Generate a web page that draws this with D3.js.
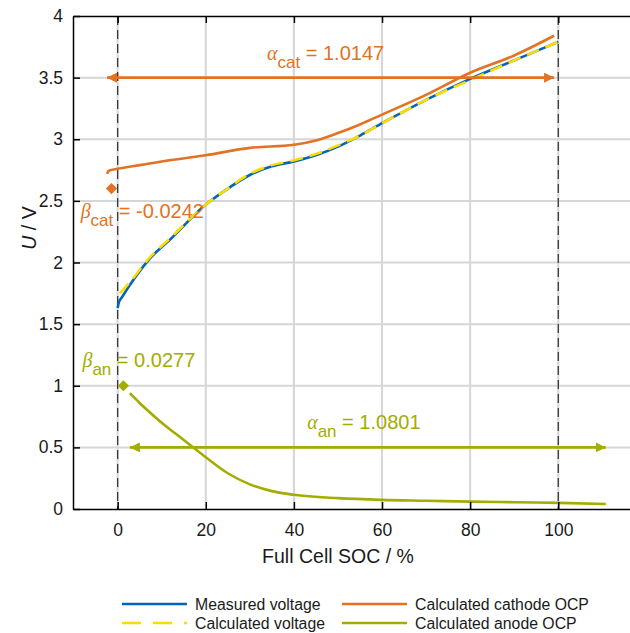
<!DOCTYPE html>
<html>
<head>
<meta charset="utf-8">
<script src="https://cdn.jsdelivr.net/npm/d3@7"></script>
<style>
  body { margin: 0; background: #fff; }
  text { font-family: Arial, "Liberation Sans", sans-serif; }
</style>
</head>
<body>
<div id="chart"></div>
<script>
// data
const measSoc = [0, 0.3, 1, 3, 7, 12, 20, 25, 30, 35, 40, 45, 50, 55, 60, 70, 80, 90, 100];
const measV   = [1.63, 1.68, 1.72, 1.83, 2.02, 2.19, 2.47, 2.60, 2.71, 2.78, 2.82, 2.87, 2.94, 3.03, 3.13, 3.32, 3.49, 3.64, 3.79];

const calcSoc = [0.5, 1, 3, 7, 12, 20, 25, 30, 35, 40, 45, 50, 55, 60, 70, 80, 90, 100];
const calcV   = [1.75, 1.77, 1.85, 2.03, 2.20, 2.47, 2.60, 2.72, 2.79, 2.83, 2.88, 2.95, 3.03, 3.13, 3.32, 3.48, 3.64, 3.79];

const cathSoc = [-2.42, -2, 0, 5, 10, 20, 30, 40, 45, 50, 55, 60, 70, 80, 90, 99.05];
const cathV   = [2.72, 2.745, 2.76, 2.79, 2.82, 2.87, 2.93, 2.955, 2.99, 3.05, 3.12, 3.20, 3.36, 3.54, 3.68, 3.84];

const anodeSoc = [2.77, 5, 10, 15, 20, 25, 30, 35, 40, 50, 60, 70, 80, 90, 100, 110.78];
const anodeV   = [0.94, 0.86, 0.70, 0.56, 0.42, 0.29, 0.20, 0.145, 0.115, 0.088, 0.074, 0.067, 0.06, 0.055, 0.05, 0.04];

const xTicks = [0, 20, 40, 60, 80, 100];
const yTicks = [0, 0.5, 1, 1.5, 2, 2.5, 3, 3.5, 4];

// fit parameters
const alphaCat = 1.0147, betaCat = -0.0242;
const alphaAn = 1.0801, betaAn = 0.0277;

const seriesNames = ["Measured voltage", "Calculated voltage", "Calculated cathode OCP", "Calculated anode OCP"];
const seriesColors = ["#0065BD", "#FFDC00", "#E37222", "#A2AD00"];

// set the dimensions of the graph
const W = 630, H = 633;

const svg = d3.select("#chart")
  .append("svg")
    .attr("width", W)
    .attr("height", H);

const x = d3.scaleLinear().domain([-10, 120]).range([73.6, 646.4]);
const y = d3.scaleLinear().domain([0, 4]).range([509, 16]);

// grid
svg.append("g")
  .selectAll("line")
  .data(xTicks)
  .enter()
  .append("line")
    .attr("x1", d => x(d)).attr("x2", d => x(d))
    .attr("y1", y(0)).attr("y2", y(4))
    .attr("stroke", "#d6d6d6")
    .attr("stroke-width", 2);

svg.append("g")
  .selectAll("line")
  .data(yTicks.slice(1, -1))
  .enter()
  .append("line")
    .attr("x1", x(-10)).attr("x2", W)
    .attr("y1", d => y(d)).attr("y2", d => y(d))
    .attr("stroke", "#d6d6d6")
    .attr("stroke-width", 2);

// dashed bounds at 0 % and 100 %
svg.selectAll(".bound")
  .data([0, 100])
  .enter()
  .append("line")
    .attr("x1", d => x(d)).attr("x2", d => x(d))
    .attr("y1", y(4)).attr("y2", y(0))
    .attr("stroke", "#3a3a3a")
    .attr("stroke-width", 1.3)
    .attr("stroke-dasharray", "9,5");

// arrow heads
const defs = svg.append("defs");
[["cat", seriesColors[2]], ["an", seriesColors[3]]].forEach(([id, c]) => {
  defs.append("marker")
    .attr("id", "head-" + id)
    .attr("viewBox", "0 0 10 10")
    .attr("refX", 10).attr("refY", 5)
    .attr("markerWidth", 10).attr("markerHeight", 10)
    .attr("markerUnits", "userSpaceOnUse")
    .attr("orient", "auto-start-reverse")
    .append("path")
      .attr("d", "M0,0 L10,5 L0,10 Z")
      .attr("fill", c);
});

const line = d3.line()
  .x(d => x(d[0]))
  .y(d => y(d[1]))
  .curve(d3.curveMonotoneX);

const zip = (a, b) => a.map((v, i) => [v, b[i]]);

// curves
svg.append("path")
  .datum(zip(measSoc, measV))
  .attr("d", line)
  .attr("fill", "none")
  .attr("stroke", seriesColors[0])
  .attr("stroke-width", 2.6);

svg.append("path")
  .datum(zip(calcSoc, calcV))
  .attr("d", line)
  .attr("fill", "none")
  .attr("stroke", seriesColors[1])
  .attr("stroke-width", 2.6)
  .attr("stroke-dasharray", "13,7");

svg.append("path")
  .datum(zip(cathSoc, cathV))
  .attr("d", line)
  .attr("fill", "none")
  .attr("stroke", seriesColors[2])
  .attr("stroke-width", 2.6);

svg.append("path")
  .datum(zip(anodeSoc, anodeV))
  .attr("d", line)
  .attr("fill", "none")
  .attr("stroke", seriesColors[3])
  .attr("stroke-width", 2.6);

// double arrows showing alpha
svg.append("line")
  .attr("x1", x(betaCat * 100)).attr("x2", x((betaCat + alphaCat) * 100))
  .attr("y1", y(3.5)).attr("y2", y(3.5))
  .attr("stroke", seriesColors[2]).attr("stroke-width", 2.6)
  .attr("marker-start", "url(#head-cat)")
  .attr("marker-end", "url(#head-cat)");

svg.append("line")
  .attr("x1", x(betaAn * 100)).attr("x2", x((betaAn + alphaAn) * 100))
  .attr("y1", y(0.5)).attr("y2", y(0.5))
  .attr("stroke", seriesColors[3]).attr("stroke-width", 2.6)
  .attr("marker-start", "url(#head-an)")
  .attr("marker-end", "url(#head-an)");

// diamond markers for beta
const diamond = d3.symbol().type(d3.symbolDiamond2).size(80);
svg.append("path")
  .attr("d", diamond)
  .attr("transform", `translate(${x(-1.4)},${y(2.6)})`)
  .attr("fill", seriesColors[2]);
svg.append("path")
  .attr("d", diamond)
  .attr("transform", `translate(${x(1.3)},${y(1.0)})`)
  .attr("fill", seriesColors[3]);

// axes box (ticks inward)
svg.append("g")
  .attr("transform", "translate(0,509)")
  .call(d3.axisBottom(x).tickValues(xTicks).tickSizeInner(-7).tickSizeOuter(0).tickPadding(15))
  .call(g => g.select(".domain").attr("stroke-width", 1.5))
  .call(g => g.selectAll("line").attr("stroke-width", 1.5))
  .selectAll("text").style("font-size", "17.5px").attr("fill", "#1a1a1a");

svg.append("g")
  .attr("transform", "translate(0,16)")
  .call(d3.axisTop(x).tickValues(xTicks).tickSizeInner(-7).tickSizeOuter(0).tickFormat(""))
  .call(g => g.select(".domain").attr("stroke-width", 1.5))
  .call(g => g.selectAll("line").attr("stroke-width", 1.5));

svg.append("g")
  .attr("transform", "translate(73,0)")
  .call(d3.axisLeft(y).tickValues(yTicks).tickSizeInner(-7).tickSizeOuter(0).tickPadding(10)
    .tickFormat(d3.format("")))
  .call(g => g.select(".domain").attr("stroke-width", 1.5))
  .call(g => g.selectAll("line").attr("stroke-width", 1.5))
  .selectAll("text").style("font-size", "17.5px").attr("fill", "#1a1a1a");

// axis labels
svg.append("text")
  .attr("x", x(50))
  .attr("y", 563)
  .style("text-anchor", "middle")
  .style("font-size", "19.5px")
  .attr("fill", "#1a1a1a")
  .text("Full Cell SOC / %");

const yl = svg.append("text")
  .attr("transform", "translate(36,228) rotate(-90)")
  .style("text-anchor", "middle")
  .style("font-size", "19.5px")
  .attr("fill", "#1a1a1a");
yl.append("tspan").style("font-style", "italic").text("U");
yl.append("tspan").text(" / V");

// parameter annotations
function annot(sx, sv, greek, sub, value, color) {
  const t = svg.append("text")
    .attr("x", x(sx))
    .attr("y", y(sv))
    .attr("fill", color)
    .style("font-size", "20px");
  t.append("tspan")
    .style("font-family", "'Liberation Serif', 'DejaVu Serif', serif")
    .style("font-style", "italic")
    .text(greek);
  t.append("tspan").attr("dy", 8).style("font-size", "17px").text(sub);
  t.append("tspan").attr("dy", -8).text(" = " + value);
}

annot(33.9, 3.64, "\u03b1", "cat", alphaCat.toFixed(4), seriesColors[2]);
annot(-8.4, 2.36, "\u03b2", "cat", betaCat.toFixed(4), seriesColors[2]);
annot(-8.0, 1.15, "\u03b2", "an", betaAn.toFixed(4), seriesColors[3]);
annot(43.0, 0.65, "\u03b1", "an", alphaAn.toFixed(4), seriesColors[3]);

// legend
const legendPos = [[122, 604], [122, 623], [342, 604], [342, 623]];
const legend = svg.selectAll(".legend")
  .data(seriesNames)
  .enter()
  .append("g")
    .attr("transform", (d, i) => `translate(${legendPos[i][0]},${legendPos[i][1]})`);

legend.append("line")
  .attr("x1", 0).attr("x2", 65)
  .attr("stroke", (d, i) => seriesColors[i])
  .attr("stroke-width", 2.6)
  .attr("stroke-dasharray", (d, i) => i === 1 ? "19,12" : null);

legend.append("text")
  .attr("x", 73)
  .attr("y", 0)
  .attr("dy", "0.35em")
  .style("font-size", "15.8px")
  .attr("fill", "#1a1a1a")
  .text(d => d);
</script>
</body>
</html>
